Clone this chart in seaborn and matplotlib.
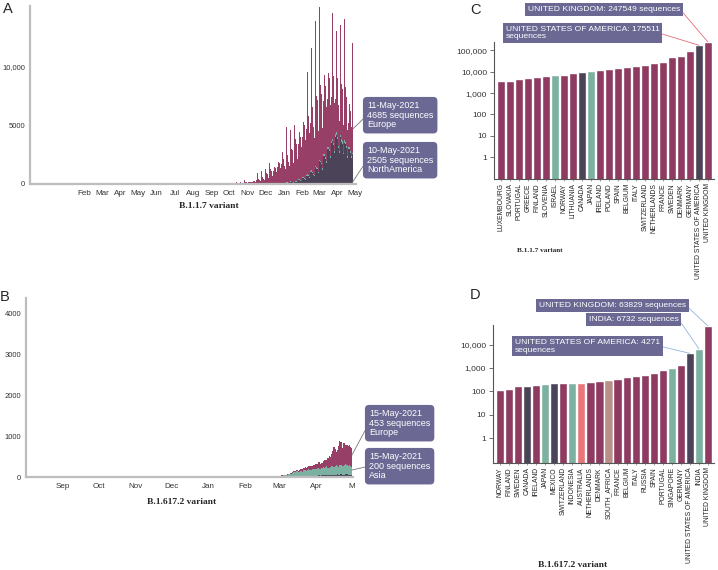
import pandas as pd
import matplotlib
matplotlib.use("Agg")
import matplotlib.pyplot as plt
import matplotlib.dates as mdates
from matplotlib.ticker import NullLocator
import seaborn as sns

# ---- panel A: B.1.1.7 daily sequences (from 26-Oct-2020) ----
a_start = "2020-10-26"
a_europe = [
    40, 150, 50, 50, 50, 40, 30,
    60, 200, 80, 80, 75, 60, 45,
    115, 345, 155, 145, 140, 110, 85,
    155, 395, 200, 195, 185, 145, 115,
    190, 490, 250, 240, 225, 180, 140,
    300, 880, 400, 385, 365, 285, 225,
    455, 1075, 605, 575, 545, 430, 340,
    690, 1270, 915, 870, 825, 650, 515,
    915, 1750, 1215, 1155, 1095, 860, 685,
    1060, 2140, 1410, 1340, 1270, 995, 790,
    1350, 2510, 1800, 1715, 1630, 1280, 1015,
    1565, 2580, 2090, 1990, 1890, 1480, 1175,
    1845, 4640, 2470, 2350, 2230, 1745, 1385,
    2195, 4385, 2945, 2800, 2660, 2080, 1645,
    2610, 4720, 3510, 3340, 3170, 2480, 1960,
    2975, 7100, 4025, 3830, 3635, 2840, 2240,
    3450, 7925, 4700, 4470, 4245, 3310, 2605,
    3870, 8695, 5320, 5060, 4800, 3740, 2935,
    4105, 10355, 5730, 5450, 5175, 4015, 3135,
    4515, 12250, 6390, 6080, 5770, 4465, 3470,
    4425, 12935, 6425, 6110, 5800, 4460, 3435,
    4520, 11365, 6720, 6390, 6065, 4640, 3545,
    4080, 7740, 6330, 6020, 5710, 4330, 3260,
    3695, 10670, 5995, 5700, 5405, 4060, 3010,
    3000, 8610, 5250, 4990, 4730, 3500, 2530,
    2820, 9340, 4945, 4700, 4455, 3295, 2380,
    2690, 10290, 4640, 4410, 4180, 3100, 2250,
    2090, 8750, 3715, 3530, 3345, 2465, 1770,
    9345, 4685,
]
a_asia = [
    0, 0, 0, 0, 0, 0, 0,
    0, 0, 0, 0, 0, 0, 0,
    1, 1, 1, 1, 1, 1, 0,
    2, 2, 2, 2, 2, 1, 1,
    3, 3, 3, 3, 3, 2, 2,
    5, 5, 5, 5, 5, 4, 3,
    8, 8, 8, 8, 8, 6, 5,
    10, 11, 10, 10, 10, 8, 7,
    15, 16, 15, 15, 14, 12, 10,
    20, 21, 20, 20, 19, 16, 14,
    25, 26, 25, 25, 24, 20, 17,
    30, 32, 30, 30, 28, 24, 21,
    40, 42, 40, 40, 38, 32, 28,
    50, 53, 50, 50, 47, 40, 35,
    60, 63, 60, 60, 57, 48, 42,
    70, 74, 70, 70, 66, 56, 49,
    80, 84, 80, 80, 76, 64, 56,
    90, 95, 90, 90, 85, 72, 63,
    100, 105, 100, 100, 95, 80, 70,
    120, 126, 120, 120, 114, 96, 84,
    140, 147, 140, 140, 133, 112, 98,
    160, 168, 160, 160, 152, 128, 112,
    180, 189, 180, 180, 171, 144, 126,
    200, 210, 200, 200, 190, 160, 140,
    210, 220, 210, 210, 200, 168, 147,
    200, 210, 200, 200, 190, 160, 140,
    190, 200, 190, 190, 180, 152, 133,
    170, 178, 170, 170, 162, 136, 119,
    150, 150,
]
a_namerica = [
    0, 0, 0, 0, 0, 0, 0,
    2, 2, 3, 2, 2, 1, 1,
    3, 4, 3, 3, 3, 2, 2,
    5, 6, 5, 5, 5, 4, 3,
    8, 9, 8, 8, 7, 6, 5,
    12, 13, 12, 12, 11, 9, 8,
    15, 17, 16, 15, 14, 12, 10,
    21, 22, 21, 20, 19, 16, 14,
    31, 33, 32, 30, 28, 24, 21,
    42, 44, 42, 40, 38, 32, 28,
    63, 66, 63, 60, 57, 48, 42,
    84, 88, 84, 80, 76, 64, 56,
    115, 121, 115, 110, 104, 88, 77,
    157, 165, 157, 150, 142, 120, 105,
    210, 220, 210, 200, 190, 160, 140,
    315, 330, 315, 300, 285, 240, 210,
    472, 495, 472, 450, 427, 360, 315,
    682, 715, 682, 650, 617, 520, 455,
    997, 1045, 997, 950, 902, 760, 665,
    1365, 1430, 1365, 1300, 1235, 1040, 910,
    1837, 1925, 1837, 1750, 1662, 1400, 1225,
    2362, 2475, 2362, 2250, 2137, 1800, 1575,
    2940, 3080, 2940, 2800, 2660, 2240, 1960,
    3465, 3630, 3465, 3300, 3135, 2640, 2310,
    3990, 4180, 3990, 3800, 3610, 3040, 2660,
    3780, 3960, 3780, 3600, 3420, 2880, 2520,
    3360, 3520, 3360, 3200, 3040, 2560, 2240,
    2940, 3080, 2940, 2800, 2660, 2240, 1960,
    2505, 2400,
]
a_months = ["Feb", "Mar", "Apr", "May", "Jun", "Jul", "Aug", "Sep", "Oct",
            "Nov", "Dec", "Jan", "Feb", "Mar", "Apr", "May"]

# ---- panel B: B.1.617.2 daily sequences (from 25-Feb-2021) ----
b_start = "2021-02-25"
b_europe = [
    0, 0, 0, 0, 0, 0, 0,
    0, 0, 1, 0, 1, 1, 2,
    2, 1, 3, 2, 4, 3, 5,
    5, 6, 8, 7, 10, 9, 12,
    15, 20, 30, 25, 35, 40, 30,
    45, 40, 60, 55, 50, 70, 65,
    80, 70, 95, 110, 85, 100, 120,
    130, 110, 150, 170, 140, 120, 160,
    200, 180, 150, 240, 280, 230, 300,
    350, 480, 420, 320, 380, 510, 600,
    560, 420, 580, 540, 470, 500, 480,
    470, 460, 453,
]
b_asia = [
    2, 3, 2, 4, 3, 5, 4,
    6, 5, 8, 7, 10, 9, 12,
    14, 12, 18, 20, 16, 25, 28,
    30, 35, 40, 38, 50, 55, 60,
    70, 85, 110, 100, 95, 120, 110,
    105, 130, 125, 115, 140, 150, 135,
    145, 160, 140, 130, 155, 170, 150,
    160, 175, 185, 165, 150, 180, 190,
    175, 195, 210, 185, 170, 200, 215,
    220, 190, 205, 230, 210, 195, 225,
    240, 220, 205, 235, 250, 230, 215,
    240, 225, 200,
]
b_namerica = [
    0, 0, 0, 0, 1, 0, 1,
    1, 1, 2, 1, 2, 2, 3,
    3, 4, 3, 5, 4, 6, 5,
    6, 8, 7, 9, 10, 8, 12,
    12, 14, 15, 13, 16, 18, 17,
    18, 20, 22, 19, 24, 25, 23,
    26, 28, 25, 30, 32, 29, 34,
    35, 33, 38, 40, 36, 42, 45,
    44, 48, 50, 46, 52, 55, 50,
    56, 60, 54, 58, 62, 57, 60,
    63, 58, 55, 60, 65, 62, 58,
    60, 55, 52,
]
b_months = ["Sep", "Oct", "Nov", "Dec", "Jan", "Feb", "Mar", "Apr", "M"]

# ---- panel C: B.1.1.7 sequences by country ----
c_countries = ["LUXEMBOURG", "SLOVAKIA", "PORTUGAL", "GREECE", "FINLAND", "SLOVENIA",
               "ISRAEL", "NORWAY", "LITHUANIA", "CANADA", "JAPAN", "IRELAND", "POLAND",
               "SPAIN", "BELGIUM", "ITALY", "SWITZERLAND", "NETHERLANDS", "FRANCE",
               "SWEDEN", "DENMARK", "GERMANY", "UNITED STATES OF AMERICA", "UNITED KINGDOM"]
c_values = [3550, 3800, 4400, 5100, 5800, 6600, 6700, 7000, 8600, 10200, 11300, 12000,
            13400, 15400, 16000, 18400, 19900, 25500, 27500, 47000, 56000, 97000,
            175511, 247549]

# ---- panel D: B.1.617.2 sequences by country ----
d_countries = ["NORWAY", "FINLAND", "SWEDEN", "CANADA", "IRELAND", "JAPAN", "MEXICO",
               "SWITZERLAND", "INDONESIA", "AUSTRALIA", "NETHERLANDS", "DENMARK",
               "SOUTH_AFRICA", "FRANCE", "BELGIUM", "ITALY", "RUSSIA", "SPAIN",
               "PORTUGAL", "SINGAPORE", "GERMANY", "UNITED STATES OF AMERICA", "INDIA",
               "UNITED KINGDOM"]
d_values = [115, 125, 170, 175, 195, 215, 220, 222, 222, 222, 260, 290, 300, 330, 400,
            450, 520, 610, 790, 970, 1390, 4271, 6732, 63829]

# colours
PINK = "#8f3a60"
EU_AREA = "#983f67"
TEAL = "#7cb1a1"
DARK = "#4b4458"
SALMON = "#e8767a"
TAN = "#b98f8a"
BOX = "#6b6893"
region_pal = {"Europe": EU_AREA, "Asia": TEAL, "NorthAmerica": DARK}
teal_set = {"ISRAEL", "JAPAN", "INDONESIA", "SINGAPORE", "INDIA"}
dark_set = {"CANADA", "MEXICO", "UNITED STATES OF AMERICA"}
special = {"AUSTRALIA": SALMON, "SOUTH_AFRICA": TAN}


def bar_colour(c):
    if c in special:
        return special[c]
    if c in teal_set:
        return TEAL
    if c in dark_set:
        return DARK
    return PINK


sns.set_style("white")
plt.rcParams["font.family"] = ["Liberation Sans", "DejaVu Sans"]

W, H = 718, 570
fig = plt.figure(figsize=(W / 100, H / 100), dpi=100)


def px_axes(l, t, r, b):
    return fig.add_axes([l / W, 1 - b / H, (r - l) / W, (b - t) / H])


def long_frame(start, series):
    frames = []
    for name, vals in series.items():
        days = pd.date_range(start, periods=len(vals), freq="D")
        frames.append(pd.DataFrame({"day": mdates.date2num(days), "count": vals, "region": name}))
    return pd.concat(frames, ignore_index=True)


def month_mid(first, n):
    return mdates.date2num(pd.date_range(first, periods=n, freq="MS") + pd.Timedelta(days=14))


def timeline(ax, df, xlim, ylim, yticks, ylabels, months, first_month):
    d0, d1 = df["day"].min(), df["day"].max()
    sns.histplot(data=df, x="day", weights="count", hue="region",
                 hue_order=["Europe", "Asia", "NorthAmerica"], palette=region_pal,
                 multiple="stack", element="step", fill=True, binwidth=1,
                 binrange=(d0 - 0.5, d1 + 0.5), linewidth=0, alpha=1, legend=False, ax=ax)
    ax.set_xlim(mdates.date2num(pd.Timestamp(xlim[0])), mdates.date2num(pd.Timestamp(xlim[1])))
    ax.set_ylim(*ylim)
    ax.set_xticks(month_mid(first_month, len(months)), months)
    ax.set_yticks(yticks, ylabels)
    ax.set_xlabel("")
    ax.set_ylabel("")
    for s in ["top", "right"]:
        ax.spines[s].set_visible(False)
    for s in ["left", "bottom"]:
        ax.spines[s].set_color("#bdbdbd")
        ax.spines[s].set_linewidth(1.6)
    ax.tick_params(axis="x", length=0, pad=4, labelsize=5.8, labelcolor="#333333")
    ax.tick_params(axis="y", length=2, width=0.6, color="#999999", pad=1.5,
                   labelsize=5.5, labelcolor="#333333")


def callout(ax, text, xy, txt_px, line_col, fs, rounded, relpos):
    style = "round,pad=0.45" if rounded else "square,pad=0.3"
    ax.annotate(text, xy=xy, xycoords="data", xytext=(txt_px[0], H - txt_px[1]),
                textcoords="figure pixels", ha="left", va="top", color="white",
                fontsize=fs, linespacing=1.1,
                bbox=dict(boxstyle=style, fc=BOX, ec="none"),
                arrowprops=dict(arrowstyle="-", color=line_col, lw=0.6, relpos=relpos,
                                shrinkA=0, shrinkB=0),
                annotation_clip=False)


# ---- A ----
axA = px_axes(30, 6, 356, 184)
dfA = long_frame(a_start, {"Europe": a_europe, "Asia": a_asia, "NorthAmerica": a_namerica})
timeline(axA, dfA, ("2019-11-15", "2021-05-16"), (0, 15100), [0, 5000, 10000],
         ["0", "5000", "10,000"], a_months, "2020-02-01")
callout(axA, "11-May-2021\n4685 sequences\nEurope",
        (mdates.date2num(pd.Timestamp("2021-05-11")), 4685), (367, 101), "#777777", 6.5, True, (0, 0.5))
callout(axA, "10-May-2021\n2505 sequences\nNorthAmerica",
        (mdates.date2num(pd.Timestamp("2021-05-10")), 150), (367, 146), "#777777", 6.5, True, (0, 0.5))
fig.text(209 / W, 1 - 206 / H, "B.1.1.7 variant", ha="center", va="center",
         family="Liberation Serif", weight="bold", fontsize=6.8)

# ---- B ----
axB = px_axes(26, 298, 353, 477)
dfB = long_frame(b_start, {"Europe": b_europe, "Asia": b_asia, "NorthAmerica": b_namerica})
timeline(axB, dfB, ("2020-08-15", "2021-05-16"), (0, 4370), [0, 1000, 2000, 3000, 4000],
         ["0", "1000", "2000", "3000", "4000"], b_months, "2020-09-01")
callout(axB, "15-May-2021\n453 sequences\nEurope",
        (mdates.date2num(pd.Timestamp("2021-05-15")), 530), (369, 409), "#777777", 6.5, True, (0, 0.5))
callout(axB, "15-May-2021\n200 sequences\nAsia",
        (mdates.date2num(pd.Timestamp("2021-05-15")), 170), (369, 452), "#777777", 6.5, True, (0, 0.5))
fig.text(182 / W, 1 - 502 / H, "B.1.617.2 variant", ha="center", va="center",
         family="Liberation Serif", weight="bold", fontsize=6.8)


# ---- C and D ----
def country_bars(ax, countries, values, ylim, yticks, ylabels):
    pal = [bar_colour(c) for c in countries]
    sns.barplot(x=countries, y=values, hue=countries, palette=pal, legend=False,
                width=0.9, saturation=1, ax=ax)
    ax.set_yscale("log")
    ax.set_ylim(*ylim)
    ax.set_xlim(-0.78, len(countries) - 0.33)
    ax.set_yticks(yticks, ylabels)
    ax.yaxis.set_minor_locator(NullLocator())
    ax.set_xticks(range(len(countries)))
    ax.set_xticklabels(countries, rotation=90, fontsize=4.9, va="top", ha="center",
                       color="#222222")
    for s in ["top", "right"]:
        ax.spines[s].set_visible(False)
    for s in ["left", "bottom"]:
        ax.spines[s].set_color("#555555")
        ax.spines[s].set_linewidth(0.8)
    ax.tick_params(axis="y", length=3, width=0.6, color="#555555", pad=2,
                   labelsize=6, labelcolor="#333333", left=True)
    ax.tick_params(axis="x", length=1.5, width=0.5, color="#777777", pad=1.5, bottom=True)
    ax.set_xlabel("")
    ax.set_ylabel("")


axC = px_axes(494, 42, 714, 179)
country_bars(axC, c_countries, c_values, (0.093, 250000),
             [1, 10, 100, 1000, 10000, 100000], ["1", "10", "100", "1,000", "10,000", "100,000"])
callout(axC, "UNITED KINGDOM: 247549 sequences", (23, 247549), (528, 6), "#e46a78", 6.1, False, (1, 0.5))
callout(axC, "UNITED STATES OF AMERICA: 175511\nsequences", (22, 175511), (506, 26), "#e46a78", 6.1, False, (1, 0.5))
fig.text(540 / W, 1 - 250 / H, "B.1.1.7 variant", ha="center", va="center",
         family="Liberation Serif", weight="bold", fontsize=5.2)

axD = px_axes(493, 325, 714, 463)
country_bars(axD, d_countries, d_values, (0.085, 70000),
             [1, 10, 100, 1000, 10000], ["1", "10", "100", "1,000", "10,000"])
callout(axD, "UNITED KINGDOM: 63829 sequences", (23, 63829), (539, 302), "#93b4d6", 6.1, False, (1, 0.5))
callout(axD, "INDIA: 6732 sequences", (22, 6732), (589, 316), "#93b4d6", 6.1, False, (1, 0.5))
callout(axD, "UNITED STATES OF AMERICA: 4271\nsequences", (21, 4271), (515, 339), "#93b4d6", 6.1, False, (1, 0.5))
fig.text(573 / W, 1 - 565 / H, "B.1.617.2 variant", ha="center", va="center",
         family="Liberation Serif", weight="bold", fontsize=6.8)

# panel letters
for letter, x, y in [("A", 3, 2), ("B", 0, 290), ("C", 470, 3), ("D", 470, 288)]:
    fig.text(x / W, 1 - y / H, letter, ha="left", va="top", fontsize=10.5)

fig.savefig("out.png", dpi=100)
